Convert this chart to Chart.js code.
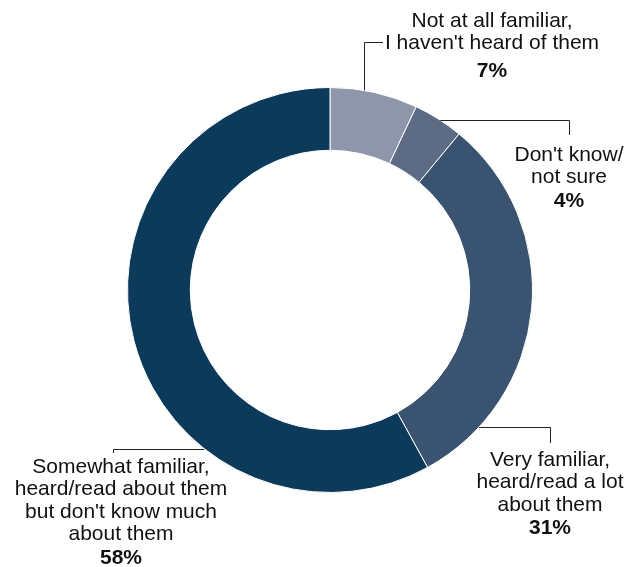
<!DOCTYPE html>
<html>
<head>
<meta charset="utf-8">
<script src="https://cdn.jsdelivr.net/npm/chart.js@4"></script>
<style>
  html, body { margin: 0; padding: 0; background: #fff; }
  #wrap { width: 626px; height: 567px; position: relative; }
</style>
</head>
<body>
<div id="wrap"><canvas id="donut" width="626" height="567"></canvas></div>
<script>
const categories = [
  ['Not at all familiar,', "I haven't heard of them"],
  ["Don't know/", 'not sure'],
  ['Very familiar,', 'heard/read a lot', 'about them'],
  ['Somewhat familiar,', 'heard/read about them', "but don't know much", 'about them']
];
const shares = [7, 4, 31, 58];
const colors = ['#8d96aa', '#5e6b85', '#3a5371', '#0b3a5a'];

// where each label sits and how its leader line bends
const labelLayout = [
  { angle: 9.6, elbow: [null, 42], end: [383, 42], text: [492, 21], pctGap: 5, dir: 'up' },
  { angle: 33, elbow: [569, null], end: [569, 135], text: [569, 155], pctGap: 1, dir: 'side' },
  { angle: 132.6, elbow: [550, null], end: [550, 443], text: [550, 460], pctGap: 1, dir: 'side' },
  { angle: 218.4, elbow: [113, null], end: [113, 453], text: [121, 467], pctGap: 1, dir: 'side' }
];

const FONT = '"Liberation Sans", Arial, sans-serif';

const leaderLabels = {
  id: 'leaderLabels',
  afterDraw(chart) {
    const ctx = chart.ctx;
    const arcs = chart.getDatasetMeta(0).data;
    ctx.save();
    arcs.forEach((arc, i) => {
      const lay = labelLayout[i];
      const a = (lay.angle - 90) * Math.PI / 180;
      const r = arc.outerRadius;
      const ax = arc.x + Math.cos(a) * r;
      const ay = arc.y + Math.sin(a) * r;

      ctx.strokeStyle = '#222';
      ctx.lineWidth = 1;
      ctx.beginPath();
      if (lay.dir === 'up') {
        ctx.moveTo(Math.round(ax) + 0.5, ay);
        ctx.lineTo(Math.round(ax) + 0.5, lay.elbow[1] + 0.5);
        ctx.lineTo(lay.end[0], lay.elbow[1] + 0.5);
      } else {
        const y = Math.round(ay) + 0.5;
        ctx.moveTo(ax, y);
        ctx.lineTo(lay.elbow[0] + 0.5, y);
        ctx.lineTo(lay.elbow[0] + 0.5, lay.end[1]);
      }
      ctx.stroke();

      ctx.fillStyle = '#111';
      ctx.textAlign = 'center';
      ctx.textBaseline = 'middle';
      ctx.font = '21px ' + FONT;
      let y = lay.text[1];
      categories[i].forEach(line => {
        ctx.fillText(line, lay.text[0], y);
        y += 22.5;
      });
      ctx.font = 'bold 21px ' + FONT;
      ctx.fillText(shares[i] + '%', lay.text[0], y + lay.pctGap);
    });
    ctx.restore();
  }
};

new Chart(document.getElementById('donut'), {
  type: 'doughnut',
  data: {
    labels: categories.map(c => c.join(' ')),
    datasets: [{
      data: shares,
      backgroundColor: colors,
      borderColor: '#ffffff',
      borderWidth: 1
    }]
  },
  options: {
    responsive: false,
    animation: false,
    cutout: '69%',
    layout: { padding: { left: 127, right: 93, top: 87, bottom: 74 } },
    plugins: {
      legend: { display: false },
      tooltip: { enabled: false }
    }
  },
  plugins: [leaderLabels]
});
</script>
</body>
</html>
